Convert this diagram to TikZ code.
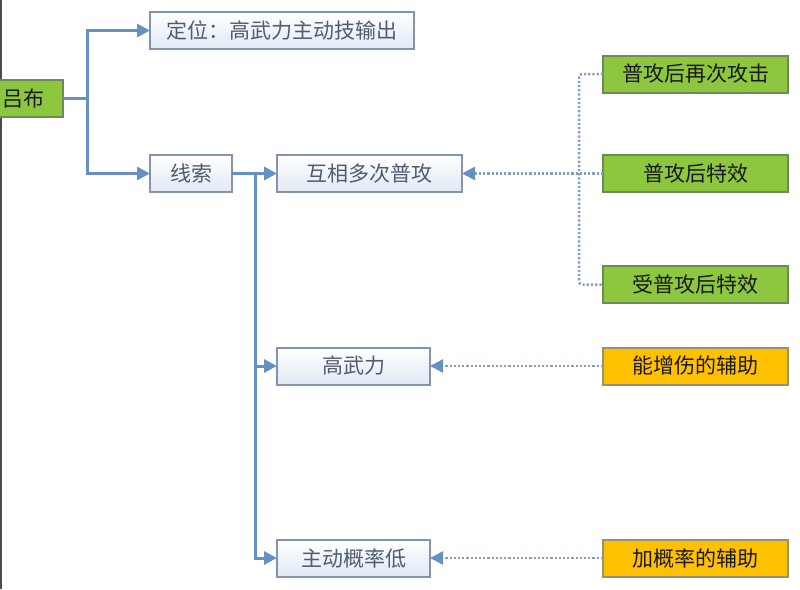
\documentclass[tikz,border=0pt]{standalone}
\usepackage{fontspec}
\setmainfont{Noto Sans CJK SC}
\usetikzlibrary{positioning, arrows.meta}
\definecolor{linkblue}{HTML}{6690C4}
\definecolor{boxline}{HTML}{8495AB}
\definecolor{boxfill}{HTML}{E1E9F4}
\definecolor{boxtext}{HTML}{4F5D6F}
\definecolor{leafgreen}{HTML}{8DC63F}
\definecolor{leafline}{HTML}{6E8A55}
\definecolor{leafyellow}{HTML}{FFC000}
\definecolor{yellowline}{HTML}{9A9070}
\definecolor{dotline}{HTML}{869EBC}
\tikzset{
	box/.style={draw=boxline, line width=2pt, outer sep=0pt, minimum height=37pt, inner sep=0pt, font=\fontsize{21}{25}\selectfont},
	topic/.style={box, top color=white, bottom color=boxfill, text=boxtext},
	greenleaf/.style={box, draw=leafline, fill=leafgreen, text=black!90, minimum width=185pt},
	yellowleaf/.style={box, draw=yellowline, fill=leafyellow, text=black!90, minimum width=185pt},
	link/.style={draw=linkblue, line width=3pt, -{Triangle[length=13pt, width=13pt]}},
	dotlink/.style={draw=dotline, line width=2.5pt, dash pattern=on 2.2pt off 2pt, rounded corners=3pt},
	dotarrow/.style={-{Triangle[length=13pt, width=13pt, color=linkblue, fill=linkblue]}}
}
\begin{document}
\begin{tikzpicture}[x=1pt, y=1pt]
	\useasboundingbox (0,0) rectangle (800,-589);
	\draw[line width=2pt, black!70] (1,0) -- (1,-589);
	\node[greenleaf, minimum width=80pt, anchor=east] (lvbu) at (63,-98.5) {吕布};
	\node[topic, minimum width=264pt, anchor=west] (dingwei) at (150,-30.5) {定位：高武力主动技输出};
	\node[topic, minimum width=82pt, anchor=west] (xiansuo) at (150,-173.5) {线索};
	\node[topic, minimum width=185pt, right=45pt of xiansuo] (pugong) {互相多次普攻};
	\node[topic, minimum width=153pt, anchor=west] (wuli) at (277,-366) {高武力};
	\node[topic, minimum width=153pt, anchor=west] (gailv) at (277,-558) {主动概率低};
	\node[greenleaf, right=141pt of pugong] (texiao) {普攻后特效};
	\node[greenleaf, anchor=west] (zaici) at (603,-74) {普攻后再次攻击};
	\node[greenleaf, anchor=west] (shou) at (603,-284.5) {受普攻后特效};
	\node[yellowleaf, anchor=west] (zengshang) at (603,-366) {能增伤的辅助};
	\node[yellowleaf, anchor=west] (jiagailv) at (603,-558) {加概率的辅助};
	\draw[link] (lvbu.east) -- ++(24,0) coordinate (fork1) |- (dingwei.west);
	\draw[link] (fork1) |- (xiansuo.west);
	\draw[link] (xiansuo.east) -- ++(23,0) coordinate (fork2) -- (pugong.west);
	\draw[link] (fork2) |- (wuli.west);
	\draw[link] (fork2) |- (gailv.west);
	\draw[dotlink] (zaici.west) -- ++(-24,0) coordinate (fork3) |- (shou.west);
	\draw[dotlink, dotarrow] (texiao.west) -- (pugong.east);
	\draw[dotlink, dotarrow] (zengshang.west) -- (wuli.east);
	\draw[dotlink, dotarrow] (jiagailv.west) -- (gailv.east);
\end{tikzpicture}
\end{document}
